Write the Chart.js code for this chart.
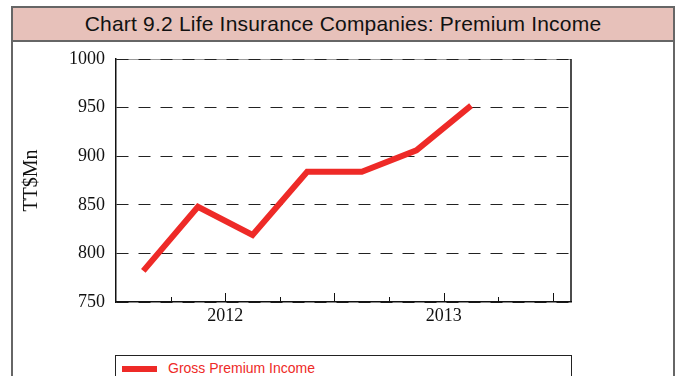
<!DOCTYPE html>
<html>
<head>
<meta charset="utf-8">
<script src="https://cdn.jsdelivr.net/npm/chart.js@4"></script>
<style>
    html, body { margin: 0; padding: 0; background: #fff; }
    #wrap { position: relative; width: 678px; height: 376px; overflow: hidden; }
    .frame {
        position: absolute; left: 11px; top: 6px; width: 664px; height: 420px;
        border: 2px solid #666; box-sizing: border-box;
    }
    .title-bar {
        position: absolute; left: 11px; top: 6px; width: 664px; height: 36px;
        background: #e7c1ba; border: 2px solid #666; box-sizing: border-box;
        font: 21px "Liberation Sans", Arial, sans-serif; color: #111;
        letter-spacing: 0.2px;
        text-align: center; line-height: 32px;
    }
    #legend {
        position: absolute; left: 115px; top: 355px; width: 457px; height: 40px;
        border: 1.5px solid #222; box-sizing: border-box; background: #fff;
    }
    .legend-item { position: absolute; left: 6px; top: 5px; height: 14px; white-space: nowrap; }
    .legend-swatch { position: absolute; left: 0; top: 5px; width: 35px; height: 6px; }
    .legend-text {
        position: absolute; left: 46px; top: -1px;
        font: 14px "Liberation Sans", Arial, sans-serif;
    }
    #chart { position: absolute; left: 0; top: 0; }
</style>
</head>
<body>
<div id="wrap">
    <div class="frame"></div>
    <div class="title-bar">Chart 9.2 Life Insurance Companies: Premium Income</div>
    <div id="legend"></div>
    <canvas id="chart" width="678" height="376"></canvas>
</div>
<script>
// ----- Data -----
const quarterIndex = [0, 1, 2, 3, 4, 5, 6];
const grossPremium = [782, 848, 819, 884, 884, 906, 952];
const tickPositions = [0.5, 1.5, 2.5, 3.5, 4.5, 5.5, 6.5, 7.5];
const tickLabels = ['', '2012', '', '', '', '2013', '', ''];
const seriesName = 'Gross Premium Income';
const lineColor = '#ee2a27';

Chart.defaults.font.family = '"Liberation Serif", "Times New Roman", serif';
Chart.defaults.color = '#111';

// ----- Frame around the plot: top rule, right edge, inward x tick marks -----
const plotFrame = {
    id: 'plotFrame',
    beforeDraw(chart) {
        const { ctx, chartArea } = chart;
        ctx.save();
        ctx.strokeStyle = '#999';
        ctx.lineWidth = 1;
        ctx.beginPath();
        ctx.moveTo(chartArea.left, chartArea.top + 0.5);
        ctx.lineTo(chartArea.right, chartArea.top + 0.5);
        ctx.stroke();
        ctx.restore();
    },
    afterDraw(chart) {
        const { ctx, chartArea } = chart;
        const xScale = chart.scales.x;
        ctx.save();
        ctx.strokeStyle = '#111';
        ctx.lineWidth = 1.5;
        ctx.beginPath();
        ctx.moveTo(chartArea.right, chartArea.top);
        ctx.lineTo(chartArea.right, chartArea.bottom);
        ctx.stroke();

        ctx.lineWidth = 1;
        xScale.ticks.forEach((t, i) => {
            const x = Math.round(xScale.getPixelForValue(t.value)) + 0.5;
            const len = i % 2 === 1 ? 9 : 5;
            ctx.beginPath();
            ctx.moveTo(x, chartArea.bottom);
            ctx.lineTo(x, chartArea.bottom - len);
            ctx.stroke();
        });
        ctx.restore();
    }
};

const chart = new Chart(document.getElementById('chart'), {
    type: 'line',
    data: {
        datasets: [{
            label: seriesName,
            data: quarterIndex.map((q, i) => ({ x: q, y: grossPremium[i] })),
            borderColor: lineColor,
            backgroundColor: lineColor,
            borderWidth: 6,
            pointRadius: 0,
            tension: 0,
            fill: false,
        }]
    },
    options: {
        responsive: false,
        animation: false,
        layout: { padding: { top: 59, right: 107, bottom: 0, left: 0 } },
        plugins: {
            legend: { display: false },
            title: { display: false },
            tooltip: { enabled: false },
        },
        scales: {
            x: {
                type: 'linear',
                min: -0.5,
                max: 7.83,
                afterBuildTicks: (scale) => {
                    scale.ticks = tickPositions.map(v => ({ value: v }));
                },
                afterFit: (scale) => { scale.height = 74; },
                ticks: {
                    autoSkip: false,
                    maxRotation: 0,
                    padding: 3,
                    font: { size: 18 },
                    callback: (value, index) => tickLabels[index],
                },
                grid: { display: true, drawOnChartArea: false, drawTicks: false },
                border: { display: true, color: '#111', width: 1.5 },
            },
            y: {
                min: 750,
                max: 1000,
                afterFit: (scale) => { scale.width = 116; },
                ticks: {
                    stepSize: 50,
                    padding: 11,
                    font: { size: 18 },
                    callback: (value) => String(value),
                },
                grid: { color: '#222', lineWidth: 1, drawTicks: false },
                border: { display: true, color: '#111', width: 1.5, dash: [12, 10] },
                title: {
                    display: true,
                    text: 'TT$Mn',
                    font: { size: 20 },
                    padding: { top: 20, bottom: 0 },
                },
            }
        }
    },
    plugins: [plotFrame],
});

// ----- Legend -----
const legendEl = document.getElementById('legend');
legendEl.innerHTML = chart.data.datasets.map(ds => `
    <div class="legend-item">
        <span class="legend-swatch" style="background:${ds.borderColor}"></span>
        <span class="legend-text" style="color:${ds.borderColor}">${ds.label}</span>
    </div>
`).join('');
</script>
</body>
</html>
